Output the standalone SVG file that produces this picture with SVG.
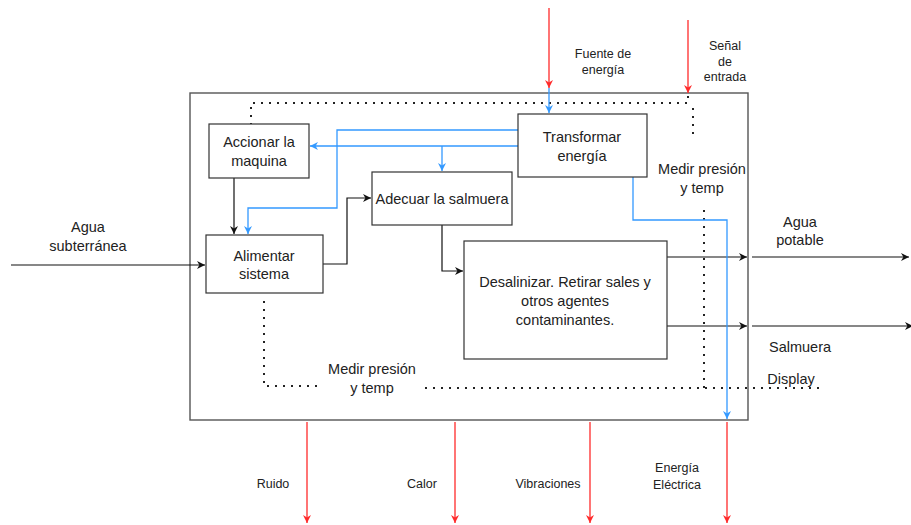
<svg xmlns="http://www.w3.org/2000/svg" width="911" height="525" viewBox="0 0 911 525">
  <defs>
    <style>
      .box { fill: #ffffff; stroke: #333333; stroke-width: 1.2; }
      .frame { fill: #ffffff; stroke: #555555; stroke-width: 1.4; }
      .t { font-family: "Liberation Sans", Arial, sans-serif; font-size: 14.5px; fill: #222222; text-anchor: middle; dominant-baseline: central; }
      .s { font-size: 12.5px; }
      .blk { fill: none; stroke: #111111; stroke-width: 1.2; }
      .blu { fill: none; stroke: #3399ff; stroke-width: 1.3; }
      .red { fill: none; stroke: #ff2a2a; stroke-width: 1.3; }
      .dot { fill: none; stroke: #222222; stroke-width: 2; stroke-dasharray: 2 6; }
    </style>
    <marker id="ab" viewBox="0 0 10 10" refX="10" refY="5" markerWidth="9" markerHeight="8" markerUnits="userSpaceOnUse" orient="auto">
      <path d="M0,0 L10,5 L0,10 L3,5 z" fill="#111111"/>
    </marker>
    <marker id="au" viewBox="0 0 10 10" refX="10" refY="5" markerWidth="9" markerHeight="8" markerUnits="userSpaceOnUse" orient="auto">
      <path d="M0,0 L10,5 L0,10 L3,5 z" fill="#3399ff"/>
    </marker>
    <marker id="ar" viewBox="0 0 10 10" refX="10" refY="5" markerWidth="9" markerHeight="8" markerUnits="userSpaceOnUse" orient="auto">
      <path d="M0,0 L10,5 L0,10 L3,5 z" fill="#ff2a2a"/>
    </marker>
  </defs>

  <rect width="911" height="525" fill="#ffffff"/>

  <!-- system boundary -->
  <rect id="frame" class="frame" x="190" y="93" width="558" height="327"/>

  <!-- connectors -->
  <g id="connectors">
    <!-- dotted measurement / signal paths -->
    <path class="dot" d="M251,125 V103 H688 V93"/>
    <path class="dot" d="M693,108 V140"/>
    <path class="dot" d="M704,210 V388"/>
    <path class="dot" d="M264,301 V386 H320"/>
    <path class="dot" d="M425,388 H825"/>

    <!-- external inputs -->
    <path class="blk" d="M11,265 H205" marker-end="url(#ab)"/>
    <path class="red" d="M549,8 V88" marker-end="url(#ar)"/>
    <path class="red" d="M688,20 V93" marker-end="url(#ar)"/>
    <path class="blu" d="M549,88 V113" marker-end="url(#au)"/>

    <!-- material flow -->
    <path class="blk" d="M234,178 V234" marker-end="url(#ab)"/>
    <path class="blk" d="M323,264 H347 V198 H371" marker-end="url(#ab)"/>
    <path class="blk" d="M442,225 V271 H463" marker-end="url(#ab)"/>
    <path class="blk" d="M667,257 H747" marker-end="url(#ab)"/>
    <path class="blk" d="M752,257 H909" marker-end="url(#ab)"/>
    <path class="blk" d="M667,326 H747" marker-end="url(#ab)"/>
    <path class="blk" d="M752,326 H913" marker-end="url(#ab)"/>

    <!-- energy distribution -->
    <path class="blu" d="M518,130 H337 V208 H248 V234" marker-end="url(#au)"/>
    <path class="blu" d="M518,146 H310" marker-end="url(#au)"/>
    <path class="blu" d="M442,146 V171" marker-end="url(#au)"/>
    <path class="blu" d="M633,177 V220 H727 V419" marker-end="url(#au)"/>

    <!-- outputs -->
    <path class="red" d="M307,422 V523" marker-end="url(#ar)"/>
    <path class="red" d="M455,422 V523" marker-end="url(#ar)"/>
    <path class="red" d="M590,422 V523" marker-end="url(#ar)"/>
    <path class="red" d="M727,422 V523" marker-end="url(#ar)"/>
  </g>

  <!-- process blocks -->
  <g id="accionar">
    <rect class="box" x="209" y="124" width="100" height="54"/>
    <text class="t" x="259" y="142">Accionar la</text>
    <text class="t" x="259" y="161">maquina</text>
  </g>
  <g id="alimentar">
    <rect class="box" x="206" y="235" width="117" height="58"/>
    <text class="t" x="264" y="256">Alimentar</text>
    <text class="t" x="264" y="274">sistema</text>
  </g>
  <g id="adecuar">
    <rect class="box" x="372" y="172" width="140" height="53"/>
    <text class="t" x="442" y="199">Adecuar la salmuera</text>
  </g>
  <g id="transformar">
    <rect class="box" x="518" y="114" width="129" height="63"/>
    <text class="t" x="582" y="137">Transformar</text>
    <text class="t" x="582" y="156">energía</text>
  </g>
  <g id="desalinizar">
    <rect class="box" x="464" y="241" width="203" height="118"/>
    <text class="t" x="565" y="282">Desalinizar. Retirar sales y</text>
    <text class="t" x="565" y="301">otros agentes</text>
    <text class="t" x="565" y="320">contaminantes.</text>
  </g>

  <!-- flow labels -->
  <g id="labels">
    <text class="t" x="88" y="227">Agua</text>
    <text class="t" x="88" y="246">subterránea</text>
    <text class="t s" x="603" y="54">Fuente de</text>
    <text class="t s" x="603" y="70">energía</text>
    <text class="t s" x="725" y="46">Señal</text>
    <text class="t s" x="725" y="62">de</text>
    <text class="t s" x="725" y="77">entrada</text>
    <text class="t" x="702" y="169">Medir presión</text>
    <text class="t" x="702" y="188">y temp</text>
    <text class="t" x="800" y="222">Agua</text>
    <text class="t" x="800" y="240">potable</text>
    <text class="t" x="800" y="347">Salmuera</text>
    <text class="t" x="791" y="379">Display</text>
    <text class="t" x="372" y="369">Medir presión</text>
    <text class="t" x="372" y="388">y temp</text>
    <text class="t s" x="273" y="484">Ruido</text>
    <text class="t s" x="422" y="484">Calor</text>
    <text class="t s" x="548" y="484">Vibraciones</text>
    <text class="t s" x="677" y="468">Energía</text>
    <text class="t s" x="677" y="485">Eléctrica</text>
  </g>
</svg>
